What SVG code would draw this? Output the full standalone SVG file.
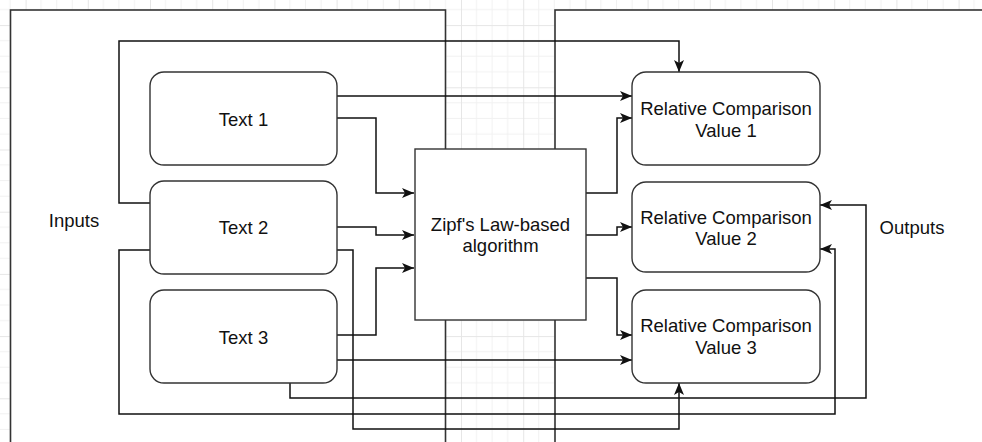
<svg xmlns="http://www.w3.org/2000/svg" width="982" height="442" viewBox="0 0 982 442">
  <defs>
    <pattern id="grid" patternUnits="userSpaceOnUse" x="25.6" y="25.1" width="62.2" height="62.2">
      <path d="M15.55,0 V62.2 M31.1,0 V62.2 M46.65,0 V62.2 M0,15.55 H62.2 M0,31.1 H62.2 M0,46.65 H62.2" stroke="#f1f1f1" stroke-width="1" fill="none"/>
      <path d="M0.5,0 V62.2 M0,0.5 H62.2" stroke="#e6e6e6" stroke-width="1" fill="none"/>
    </pattern>
    <marker id="arrow" markerUnits="userSpaceOnUse" markerWidth="13" markerHeight="11" refX="12" refY="5" orient="auto">
      <path d="M0,0 L12,5 L0,10 L3,5 Z" fill="#111"/>
    </marker>
    <style>
      .frame { fill: #fff; stroke: #333; stroke-width: 1.6; }
      .node { fill: #fff; stroke: #333; stroke-width: 1.4; }
      .conn { fill: none; stroke: #111; stroke-width: 1.5; marker-end: url(#arrow); }
      .label { font-family: "Liberation Sans", Arial, Helvetica, sans-serif; font-size: 18.5px; fill: #111; text-anchor: middle; }
    </style>
  </defs>

  <rect x="0" y="0" width="982" height="442" fill="#fff"/>
  <rect x="0" y="0" width="982" height="442" fill="url(#grid)"/>

  <g id="frames">
    <rect class="frame" x="10.5" y="10" width="435" height="460"/>
    <rect class="frame" x="555" y="10" width="440" height="460"/>
  </g>

  <g id="connectors">
    <path class="conn" d="M337,96 H632"/>
    <path class="conn" d="M337,118 H376 V193 H414"/>
    <path class="conn" d="M337,227 H376 V235 H414"/>
    <path class="conn" d="M337,335 H376 V268 H414"/>
    <path class="conn" d="M337,360 H632"/>
    <path class="conn" d="M586,193 H617 V118 H632"/>
    <path class="conn" d="M586,235 H617 V227 H632"/>
    <path class="conn" d="M586,278 H617 V335 H632"/>
    <path class="conn" d="M150,203 H119 V41 H679 V72"/>
    <path class="conn" d="M150,250 H119 V414 H835 V249 H820"/>
    <path class="conn" d="M337,250 H353 V429 H679 V383"/>
    <path class="conn" d="M290,383 V398 H866 V205 H820"/>
  </g>

  <g id="text1">
    <rect class="node" x="150" y="72" width="187" height="93" rx="14"/>
    <text class="label" x="243.5" y="126">Text 1</text>
  </g>
  <g id="text2">
    <rect class="node" x="150" y="181" width="187" height="93" rx="14"/>
    <text class="label" x="243.5" y="234">Text 2</text>
  </g>
  <g id="text3">
    <rect class="node" x="150" y="290" width="187" height="93" rx="14"/>
    <text class="label" x="243.5" y="343.5">Text 3</text>
  </g>
  <g id="algorithm">
    <rect class="node" x="415" y="149" width="171" height="171"/>
    <text class="label" x="500.5" y="231">Zipf's Law-based</text>
    <text class="label" x="500.5" y="252">algorithm</text>
  </g>
  <g id="value1">
    <rect class="node" x="632" y="72" width="188" height="93" rx="14"/>
    <text class="label" x="726" y="115">Relative Comparison</text>
    <text class="label" x="726" y="136.5">Value 1</text>
  </g>
  <g id="value2">
    <rect class="node" x="632" y="182" width="188" height="90" rx="14"/>
    <text class="label" x="726" y="223.5">Relative Comparison</text>
    <text class="label" x="726" y="245">Value 2</text>
  </g>
  <g id="value3">
    <rect class="node" x="632" y="290" width="188" height="93" rx="14"/>
    <text class="label" x="726" y="332">Relative Comparison</text>
    <text class="label" x="726" y="353.5">Value 3</text>
  </g>
  <g id="inputs">
    <text class="label" x="74" y="226.5">Inputs</text>
  </g>
  <g id="outputs">
    <text class="label" x="912" y="234">Outputs</text>
  </g>
</svg>
